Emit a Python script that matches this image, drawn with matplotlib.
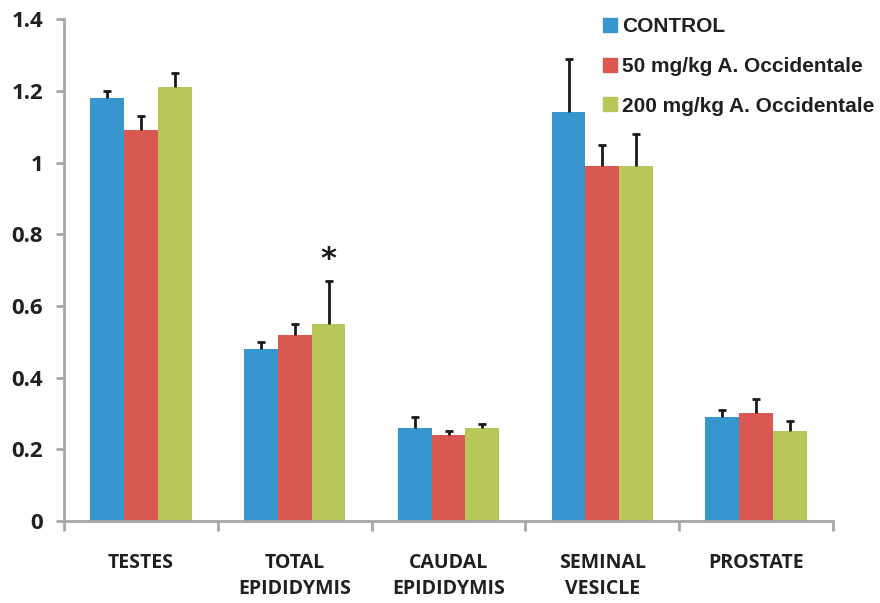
import matplotlib.pyplot as plt
from matplotlib.patches import Patch
import numpy as np

categories = ["TESTES", "TOTAL\nEPIDIDYMIS", "CAUDAL\nEPIDIDYMIS", "SEMINAL\nVESICLE", "PROSTATE"]
series = ["CONTROL", "50 mg/kg A. Occidentale", "200 mg/kg A. Occidentale"]
control = [1.18, 0.48, 0.26, 1.14, 0.29]
control_err = [0.02, 0.02, 0.03, 0.15, 0.02]
low_dose = [1.09, 0.52, 0.24, 0.99, 0.30]
low_dose_err = [0.04, 0.03, 0.01, 0.06, 0.04]
high_dose = [1.21, 0.55, 0.26, 0.99, 0.25]
high_dose_err = [0.04, 0.12, 0.01, 0.09, 0.03]
yticks = [0, 0.2, 0.4, 0.6, 0.8, 1, 1.2, 1.4]
ytick_labels = ["0", "0.2", "0.4", "0.6", "0.8", "1", "1.2", "1.4"]

colors = ["#3796CE", "#D95852", "#B8C65A"]
axis_gray = "#A6A6A6"
tick_font = "Open Sans"

fig = plt.figure(figsize=(8.8, 6.03), dpi=100)
ax = fig.add_axes([0.0727, 0.136, 0.874, 0.832])

x = np.arange(len(categories))
w = 0.22
values = [control, low_dose, high_dose]
errs = [control_err, low_dose_err, high_dose_err]
for i in range(3):
    xi = x + (i - 1) * w
    ax.bar(xi, values[i], w, color=colors[i], edgecolor="none", zorder=2)
    eb = ax.errorbar(xi, values[i], yerr=[np.zeros(len(x)), errs[i]], fmt="none",
                     ecolor="#1a1a1a", elinewidth=2, capsize=3, capthick=2, zorder=3)
    eb[1][0].set_visible(False)  # no cap on the bar top

# significance mark
ax.text(x[1] + w, high_dose[1] + high_dose_err[1] + 0.02, "*", ha="center", va="bottom",
        fontsize=22, fontweight="bold", color="#1a1a1a")

ax.set_xlim(-0.5, len(categories) - 0.5)
ax.set_ylim(0, 1.4)
ax.set_yticks(yticks)
ax.set_yticklabels(ytick_labels, family=tick_font, fontweight="bold", fontsize=16, color="#231F20")
ax.set_xticks(x)
ax.set_xticklabels(categories, family=tick_font, fontweight="bold", fontsize=14, color="#231F20",
                   linespacing=1.4)
ax.set_xticks(np.arange(-0.5, len(categories)), minor=True)
ax.tick_params(axis="x", which="major", length=0, pad=23)
ax.tick_params(axis="x", which="minor", length=7, width=2, color=axis_gray, direction="out")
ax.tick_params(axis="y", length=6, width=2, color=axis_gray, pad=9)

for s in ["top", "right"]:
    ax.spines[s].set_visible(False)
for s in ["left", "bottom"]:
    ax.spines[s].set_color(axis_gray)
    ax.spines[s].set_linewidth(2)

handles = [Patch(color=c) for c in colors]
leg = ax.legend(handles, series, loc="upper left", bbox_to_anchor=(0.69, 1.021), frameon=False,
                prop={"family": "Liberation Sans", "weight": "bold", "size": 15},
                handlelength=0.65, handleheight=0.65, handletextpad=0.25, labelspacing=1.0,
                borderaxespad=0)
for t in leg.get_texts():
    t.set_color("#231F20")

plt.savefig("out.png", dpi=100)
